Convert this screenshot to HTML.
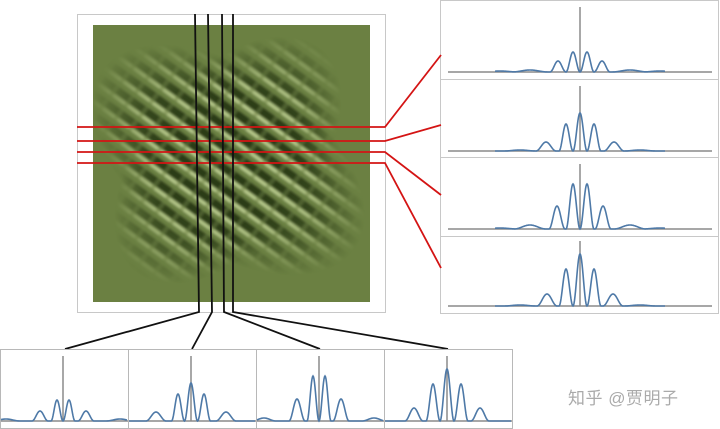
<!DOCTYPE html>
<html><head><meta charset="utf-8">
<style>
html,body{margin:0;padding:0;background:#fff;width:720px;height:429px;overflow:hidden}
svg{display:block}
.wm{position:absolute;left:568px;top:384px;font-family:"Liberation Sans","Noto Sans CJK SC",sans-serif;font-size:17px;color:#aaa;letter-spacing:0.5px}
</style></head>
<body>
<svg id="c" width="720" height="429" viewBox="0 0 720 429">
<defs>
<pattern id="stripes" patternUnits="userSpaceOnUse" width="17" height="17" patternTransform="rotate(36)">
<rect width="17" height="17" fill="#6b8042"/>
<rect y="0" width="17" height="8" fill="#2c3a18"/>
<rect y="9" width="17" height="3" fill="#bccd90"/>
</pattern>
<pattern id="stripes2" patternUnits="userSpaceOnUse" width="18" height="18" patternTransform="rotate(-52)">
<rect width="18" height="18" fill="none"/>
<rect y="0" width="18" height="4" fill="#6b8042" opacity="0.5"/>
</pattern>
<filter id="blur"><feGaussianBlur stdDeviation="1.2"/></filter>
<radialGradient id="fade" cx="0.5" cy="0.5" r="0.5">
<stop offset="0" stop-color="#fff" stop-opacity="1"/>
<stop offset="0.6" stop-color="#fff" stop-opacity="0.85"/>
<stop offset="1" stop-color="#fff" stop-opacity="0"/>
</radialGradient>
<mask id="m">
<ellipse cx="228" cy="160" rx="155" ry="90" fill="url(#fade)" transform="rotate(35 228 160)"/>
<ellipse cx="228" cy="160" rx="145" ry="85" fill="url(#fade)" transform="rotate(-50 228 160)"/>
</mask>
<clipPath id="hc"><rect x="93" y="25" width="277" height="277"/></clipPath>
</defs>
<rect x="77.5" y="14.5" width="308" height="298" fill="#fff" stroke="#c8c8c8"/>
<rect x="93" y="25" width="277" height="277" fill="#6b8042"/>
<g clip-path="url(#hc)"><g mask="url(#m)" filter="url(#blur)">
<rect x="93" y="25" width="277" height="277" fill="url(#stripes)"/>
<rect x="93" y="25" width="277" height="277" fill="url(#stripes2)"/>
</g></g>
<rect x="440.5" y="0.5" width="278" height="313" fill="none" stroke="#c8c8c8"/>
<g id="lines"></g>
<g id="panels"></g>
</svg>
<div class="wm">知乎 @贾明子</div>
<script>
// peak data per panel: offsets (data units), heights (data units), widths (data units)
const rOffsets1=[-80,-50,-22,-7,7,22,50,80], rHeights1=[1,2,11,20,20,11,2,1], rWidths1=[18,18,8,7,7,8,18,18];
const rOffsets2=[-60,-34,-14,0,14,34,60], rHeights2=[1,9,27,38,27,9,1], rWidths2=[16,10,7,7,7,10,16];
const rOffsets3=[-80,-50,-23,-7,7,23,50,80], rHeights3=[1,4,23,45,45,23,4,1], rWidths3=[18,16,8,7,7,8,16,18];
const rOffsets4=[-60,-33,-14,0,14,33,60], rHeights4=[1,12,37,52,37,12,1], rWidths4=[16,10,7,7,7,10,16];
const bOffsets1=[-57,-23,-6,6,23,57], bHeights1=[2,10,21,21,10,2], bWidths1=[14,8,6,6,8,14];
const bOffsets2=[-35,-13,0,13,35], bHeights2=[9,27,38,27,9], bWidths2=[10,6.5,6.5,6.5,10];
const bOffsets3=[-55,-22,-6,6,22,55], bHeights3=[3,22,45,45,22,3], bWidths3=[12,8,6,6,8,12];
const bOffsets4=[-33,-14,0,14,33], bHeights4=[13,37,52,37,13], bWidths4=[9,7,7,7,9];
const yMax=65;
const NS="http://www.w3.org/2000/svg";
const panelsG=document.getElementById('panels'), linesG=document.getElementById('lines');
function mk(tag,attrs,parent){const e=document.createElementNS(NS,tag);for(const k in attrs)e.setAttribute(k,attrs[k]);parent.appendChild(e);return e;}
function panel(name,x0,x1,cx,base,top,xs,hs,ws,clipL,clipR){
  const g=mk('g',{},panelsG);
  
  
  const yScale=v=>base-v*((base-top)/yMax);
  const ax=mk('line',{x1:x0,x2:x1,y1:base,y2:base,stroke:'#8a8a8a','stroke-width':1.5},g);
  
  
  let d='';
  for(let px=clipL;px<=clipR;px+=0.5){
    const v=px-cx;let s=0;
    for(let i=0;i<xs.length;i++){const u=(v-xs[i])/ws[i];if(Math.abs(u)<1)s+=hs[i]*Math.pow(Math.cos(u*Math.PI/2),2);}
    d+=(d?'L':'M')+px.toFixed(1)+','+yScale(s).toFixed(2);
  }
  const vl=mk('line',{x1:cx,x2:cx,y1:top,y2:base,stroke:'#8a8a8a','stroke-width':1.5},g);
  
  
  const p=mk('path',{d:d,fill:'none',stroke:'#4e79a7','stroke-width':1.6},g);
  
  
}
const rTop=[0,79,157,236], rBase=[72,151,229,306];
const rData=[[rOffsets1,rHeights1,rWidths1],[rOffsets2,rHeights2,rWidths2],[rOffsets3,rHeights3,rWidths3],[rOffsets4,rHeights4,rWidths4]];
for(let i=0;i<4;i++){
  if(i>0){const s=mk('line',{x1:441,x2:718,y1:rTop[i]+0.5,y2:rTop[i]+0.5,stroke:'#c8c8c8'},panelsG);
  
  }
  panel('right-profile-'+(i+1),448,712,580,rBase[i],rBase[i]-65,rData[i][0],rData[i][1],rData[i][2],495,665);
}
const bData=[[bOffsets1,bHeights1,bWidths1],[bOffsets2,bHeights2,bWidths2],[bOffsets3,bHeights3,bWidths3],[bOffsets4,bHeights4,bWidths4]];
const bCx=[63,191,319,447];
for(let i=0;i<4;i++){
  const x0=i*128;
  const r=mk('rect',{x:x0+0.5,y:349.5,width:128,height:79,fill:'none',stroke:'#b8b8b8'},panelsG);
  
  
  panel('bottom-profile-'+(i+1),x0+1,x0+128,bCx[i],421,356,bData[i][0],bData[i][1],bData[i][2],x0+1,x0+127);
}
const redY=[127,141,152,163], redTarget=[55,125,195,268];
for(let i=0;i<4;i++){
  const l=mk('polyline',{points:`77,${redY[i]} 385,${redY[i]} 441,${redTarget[i]}`,fill:'none',stroke:'#d41414','stroke-width':1.8},linesG);
  
  
}
const bTopX=[195,208,222,233], bBotX=[199,212,224,233], bTarget=[65,192,320,448];
for(let i=0;i<4;i++){
  const l=mk('polyline',{points:`${bTopX[i]},14 ${bBotX[i]},312 ${bTarget[i]},349`,fill:'none',stroke:'#111','stroke-width':1.8},linesG);
  
  
}
</script>
</body></html>
